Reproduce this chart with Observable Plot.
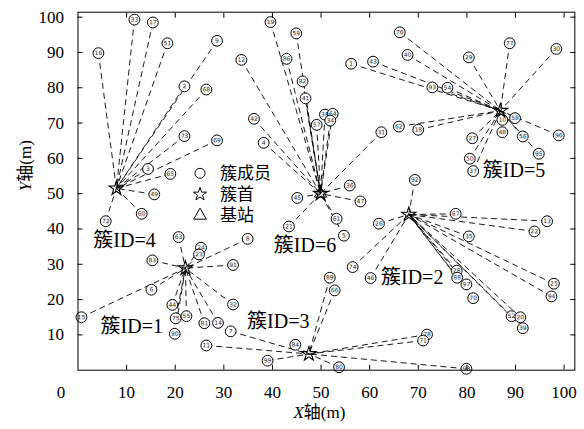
<!DOCTYPE html>
<html>
<head>
<meta charset="utf-8">
<script src="https://cdn.jsdelivr.net/npm/d3@7"></script>
<script src="https://cdn.jsdelivr.net/npm/@observablehq/plot@0.6"></script>
<style>
  html, body { margin: 0; padding: 0; background: white; }
  #chart { width: 584px; height: 429px; }
</style>
</head>
<body>
<div id="chart"></div>
<script>
// ---- data ----
const clusterIds = [1, 2, 3, 4, 5, 6];
const headX = [22.1, 68.05, 47.5, 7.9, 86.9, 49.9];
const headY = [28.9, 44.1, 4.6, 51.5, 73.5, 50.0];
const baseX = [49.9];
const baseY = [50.0];

const nodeId = [
  // cluster 4
  16, 33, 17, 51, 9, 2, 68, 73, 69, 3, 65, 49, 60, 72,
  // cluster 6
  19, 59, 12, 86, 82, 41, 42, 4, 38, 64, 34, 57, 31, 36, 45, 47, 21, 61, 5,
  // cluster 5
  76, 40, 1, 43, 29, 77, 30, 93, 54, 10, 58, 48, 27, 56, 96, 95, 50, 37, 62, 18,
  // cluster 2
  92, 26, 67, 13, 22, 35, 25, 94, 28, 88, 97, 70, 52, 20, 39, 46, 74,
  // cluster 1
  63, 24, 23, 8, 83, 91, 6, 15, 44, 32, 75, 55, 90, 81, 14,
  // cluster 3
  7, 11, 99, 84, 89, 66, 80, 78, 71, 98
];
const nodeX = [
  4.2, 11.6, 15.4, 18.4, 28.6, 21.9, 26.4, 21.9, 28.6, 14.4, 19.0, 15.7, 13.1, 5.7,
  39.6, 44.9, 33.6, 42.9, 46.2, 46.8, 36.2, 38.2, 50.8, 52.4, 51.9, 49.1, 62.4, 55.9, 45.1, 58.1, 43.4, 53.2, 54.7,
  66.2, 67.8, 56.2, 60.7, 80.4, 88.8, 98.4, 72.9, 76.0, 87.3, 89.9, 87.3, 81.1, 91.5, 98.9, 94.8, 80.6, 81.3, 66.0, 70.0,
  69.3, 61.9, 77.7, 96.5, 93.9, 80.4, 97.9, 97.4, 77.9, 78.0, 79.9, 81.3, 89.2, 91.0, 91.5, 60.2, 56.5,
  20.7, 25.3, 24.9, 34.9, 15.3, 31.9, 15.1, 0.7, 19.4, 31.9, 20.1, 22.3, 19.9, 26.0, 28.8,
  31.4, 26.4, 39.0, 44.7, 51.8, 52.8, 53.7, 71.8, 71.0, 79.9
];
const nodeY = [
  89.8, 99.3, 98.5, 92.6, 93.3, 80.4, 79.5, 66.3, 65.1, 57.0, 55.6, 49.8, 44.3, 42.2,
  98.6, 95.4, 87.9, 88.2, 81.8, 77.0, 71.2, 64.4, 72.4, 72.6, 70.7, 69.5, 67.4, 52.3, 48.8, 47.8, 40.7, 42.9, 38.1,
  95.7, 89.3, 86.8, 87.4, 88.6, 92.6, 91.0, 80.1, 80.0, 70.9, 71.4, 67.4, 65.7, 66.2, 66.5, 61.3, 59.9, 56.4, 69.0, 68.1,
  53.9, 41.5, 44.3, 42.2, 39.3, 37.9, 24.5, 20.9, 28.2, 26.2, 24.3, 20.4, 15.3, 15.0, 11.9, 26.1, 29.2,
  37.7, 34.7, 32.8, 37.2, 31.1, 29.8, 22.8, 15.0, 18.5, 18.6, 14.7, 15.3, 10.3, 13.3, 13.4,
  11.0, 7.0, 2.7, 7.2, 26.2, 22.6, 0.85, 10.1, 8.4, 0.4
];
const nodeCluster = [
  4, 4, 4, 4, 4, 4, 4, 4, 4, 4, 4, 4, 4, 4,
  6, 6, 6, 6, 6, 6, 6, 6, 6, 6, 6, 6, 6, 6, 6, 6, 6, 6, 6,
  5, 5, 5, 5, 5, 5, 5, 5, 5, 5, 5, 5, 5, 5, 5, 5, 5, 5, 5, 5,
  2, 2, 2, 2, 2, 2, 2, 2, 2, 2, 2, 2, 2, 2, 2, 2, 2,
  1, 1, 1, 1, 1, 1, 1, 1, 1, 1, 1, 1, 1, 1, 1,
  3, 3, 3, 3, 3, 3, 3, 3, 3, 3
];

const clusterLabel = ["簇ID=1", "簇ID=2", "簇ID=3", "簇ID=4", "簇ID=5", "簇ID=6"];
const clusterLabelX = [11.05, 68.75, 41.2, 9.57, 89.7, 46.7];
const clusterLabelY = [12.4, 26.3, 13.9, 36.7, 56.4, 35.3];

const legendItems = ["簇成员", "簇首", "基站"];
const xTicks = [10, 20, 30, 40, 50, 60, 70, 80, 90, 100];
const yTicks = [10, 20, 30, 40, 50, 60, 70, 80, 90, 100];

// ---- tables ----
const heads = clusterIds.map((c, i) => ({c, x: headX[i], y: headY[i]}));
const nodes = nodeId.map((id, i) => ({
  id, x: nodeX[i], y: nodeY[i], c: nodeCluster[i],
  hx: headX[nodeCluster[i] - 1], hy: headY[nodeCluster[i] - 1]
}));
const base = baseX.map((x, i) => ({x, y: baseY[i]}));
const labels = clusterLabel.map((t, i) => ({t, x: clusterLabelX[i], y: clusterLabelY[i]}));

const serif = "'Liberation Serif', 'Noto Sans CJK SC', serif";

const chart = Plot.plot({
  width: 584,
  height: 429,
  marginLeft: 77.5,
  marginRight: 9.7,
  marginTop: 11.7,
  marginBottom: 59.3,
  x: {domain: [0, 102.2]},
  y: {domain: [0, 101.4]},
  style: {fontFamily: serif, fontSize: "17px", color: "black", background: "white"},
  marks: [
    Plot.link(nodes, {x1: "x", y1: "y", x2: "hx", y2: "hy", stroke: "black", strokeWidth: 0.9, strokeDasharray: "6,4"}),
    Plot.dot(nodes, {x: "x", y: "y", r: 5.4, stroke: "black", fill: "white", strokeWidth: 1}),
    Plot.text(nodes, {x: "x", y: "y", text: d => String(d.id), fontSize: 6, rotate: 0.5, fontFamily: "'DejaVu Sans', sans-serif", fill: "#222"}),
    Plot.dot(heads, {x: "x", y: "y", symbol: "star", r: 4.5, stroke: "black", fill: "none", strokeWidth: 1.1}),
    Plot.dot(base, {x: "x", y: "y", symbol: "triangle", r: 4.5, stroke: "black", fill: "none", strokeWidth: 1}),
    Plot.text(labels, {x: "x", y: "y", text: "t", fontSize: 20, fontFamily: serif, fill: "black"}),
    Plot.frame({stroke: "black", strokeWidth: 1}),
    Plot.axisX({anchor: "bottom", ticks: xTicks, tickSize: -5, tickPadding: 21, label: null, fontSize: 17}),
    Plot.axisX({anchor: "bottom", ticks: [0], tickSize: 0, tickPadding: 16, dx: -17, label: null, fontSize: 17}),
    Plot.axisX({anchor: "top", ticks: xTicks, tickSize: -5, tickFormat: () => "", label: null}),
    Plot.axisY({anchor: "left", ticks: yTicks, tickSize: -5, tickPadding: 19, label: null, fontSize: 17}),
    Plot.axisY({anchor: "right", ticks: yTicks, tickSize: -5, tickFormat: () => "", label: null}),
    Plot.text(["X轴(m)"], {frameAnchor: "bottom", text: d => d, dx: -7, dy: 48, fontSize: 17, fontFamily: serif, fill: "black"}),
    Plot.text(["Y轴(m)"], {frameAnchor: "left", text: d => d, rotate: -90, dx: -52, fontSize: 17, fontFamily: serif, fill: "black"})
  ]
});

document.getElementById("chart").appendChild(chart);

// italic X / Y in axis titles
d3.select(chart).selectAll("text").each(function () {
  const t = this.textContent;
  if (t === "X轴(m)" || t === "Y轴(m)") {
    const s = d3.select(this);
    s.text(null);
    s.append("tspan").attr("font-style", "italic").text(t[0]);
    s.append("tspan").text(t.slice(1));
  }
});

// legend inside the plot area
const lg = d3.select(chart).append("g").attr("class", "legend");
const legendSym = [null, d3.symbolStar, d3.symbolTriangle];
const legendRowY = [173.3, 194.3, 215.5];
legendItems.forEach((name, i) => {
  const cy = legendRowY[i];
  if (i === 0) {
    lg.append("circle").attr("cx", 200).attr("cy", cy).attr("r", 5)
      .attr("fill", "none").attr("stroke", "black").attr("stroke-width", 1);
  } else {
    lg.append("path").attr("transform", `translate(200,${cy})`)
      .attr("d", d3.symbol(legendSym[i], i === 1 ? 55 : 70)())
      .attr("fill", "none").attr("stroke", "black").attr("stroke-width", 1);
  }
  lg.append("text").attr("x", 220).attr("y", cy).attr("dy", "0.35em")
    .attr("text-anchor", "start")
    .attr("font-size", 17).attr("font-family", serif).attr("fill", "black").text(name);
});
</script>
</body>
</html>
